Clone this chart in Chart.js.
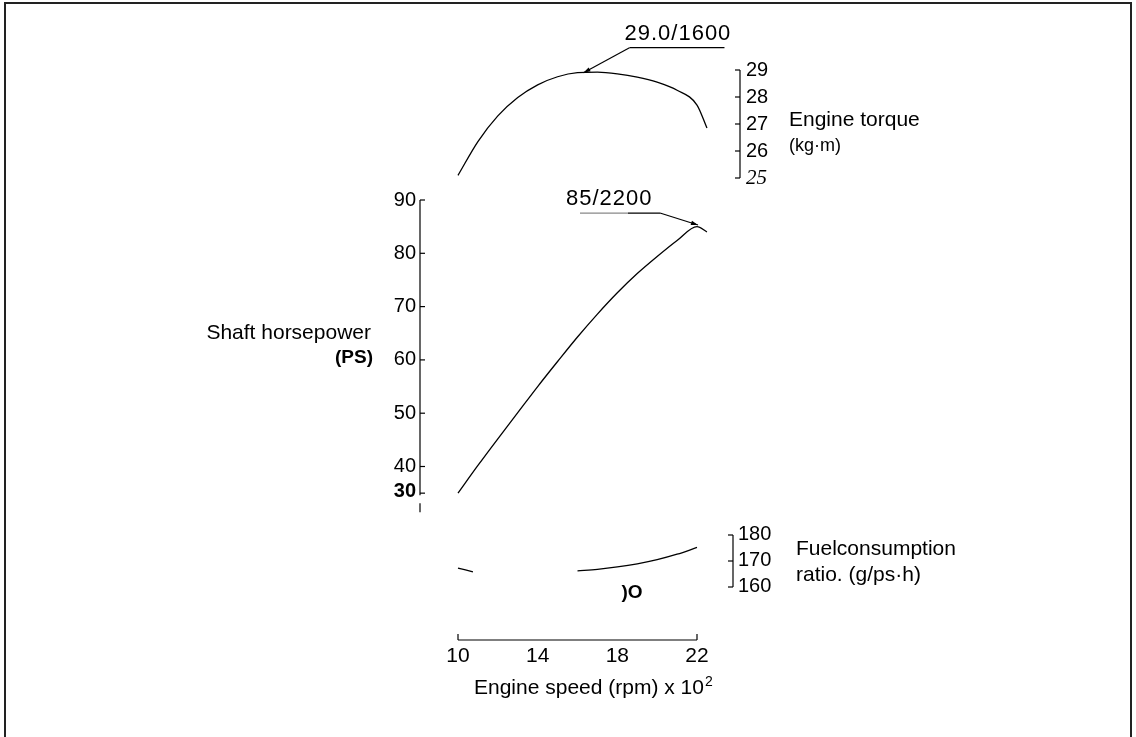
<!DOCTYPE html>
<html>
<head>
<meta charset="utf-8">
<script src="https://cdn.jsdelivr.net/npm/chart.js@4.4.1/dist/chart.umd.min.js"></script>
<style>
  html, body { margin: 0; padding: 0; background: #fff; }
</style>
</head>
<body>
<canvas id="engine-chart" width="1136" height="737"></canvas>
<script>
// engine speed in 100 rpm
const torqueRpm = [10, 11, 12, 13, 14, 15, 16, 17, 18, 19, 20, 21, 22, 22.5];
const torqueValues = [25.1, 26.35, 27.3, 27.98, 28.45, 28.75, 28.9, 28.92, 28.86, 28.74, 28.55, 28.25, 27.7, 26.85];

const powerRpm = [10, 11, 12, 13, 14, 15, 16, 17, 18, 19, 20, 21, 22, 22.5];
const powerValues = [35, 40.2, 45.2, 50.1, 55, 59.7, 64.3, 68.6, 72.6, 76.2, 79.4, 82.4, 85, 84];

// the scan only shows two pieces of the fuel curve
const fuelRpm = [10, 10.75, 13, 16, 17, 18, 19, 20, 21, 22];
const fuelValues = [167.3, 165.8, null, 166.2, 166.8, 167.7, 168.9, 170.5, 172.6, 175.2];

const rpmTicks = [10, 14, 18, 22];
const torqueTicks = [29, 28, 27, 26, 25];
const powerTicks = [90, 80, 70, 60, 50, 40];
const fuelTicks = [180, 170, 160];

// power axis is broken below 40: the "30" mark sits half a step under 40
const powerBreakLabel = '30';
const powerBreakAt = 35;

const torqueNote = { text: '29.0/1600', x: 16.3, y: 28.9 };
const powerNote = { text: '85/2200', x: 22.05, y: 85.3 };

const AREA_TOP = 20, AREA_BOTTOM = 640;
const X_LEFT = 458, X_22 = 697, X_MAX = 22.6;
const X_RIGHT = X_22 + (X_MAX - 22) * (X_22 - X_LEFT) / 12;

// each curve lives in its own vertical band of the same plot area
function band(v1, p1, v2, p2) {
  const k = (p1 - p2) / (v2 - v1);
  return { min: v1 - (AREA_BOTTOM - p1) / k, max: v2 + (p2 - AREA_TOP) / k };
}
const torqueRange = band(25, 178, 29, 70);
const powerRange = band(40, 466.5, 90, 200);
const fuelRange = band(160, 587, 180, 535);

const pts = (xs, ys) => xs.map((x, i) => ({ x: x, y: ys[i] }));

const FONT = '"Liberation Sans", Arial, sans-serif';

function text(ctx, str, x, y, align, font, spacing) {
  ctx.font = font || '21px ' + FONT;
  ctx.letterSpacing = spacing || '0px';
  ctx.textAlign = align || 'left';
  ctx.textBaseline = 'middle';
  ctx.fillText(str, x, y);
  ctx.letterSpacing = '0px';
}

function line(ctx, x1, y1, x2, y2) {
  ctx.beginPath();
  ctx.moveTo(x1, y1);
  ctx.lineTo(x2, y2);
  ctx.stroke();
}

function arrowHead(ctx, fromX, fromY, tipX, tipY) {
  const a = Math.atan2(tipY - fromY, tipX - fromX);
  ctx.beginPath();
  ctx.moveTo(tipX, tipY);
  ctx.lineTo(tipX - 7 * Math.cos(a) + 2.2 * Math.sin(a), tipY - 7 * Math.sin(a) - 2.2 * Math.cos(a));
  ctx.lineTo(tipX - 7 * Math.cos(a) - 2.2 * Math.sin(a), tipY - 7 * Math.sin(a) + 2.2 * Math.cos(a));
  ctx.closePath();
  ctx.fill();
}

const decorations = {
  id: 'decorations',
  afterDraw(chart) {
    const ctx = chart.ctx;
    const sx = chart.scales.x;
    const yT = chart.scales.yTorque;
    const yP = chart.scales.yPower;
    const yF = chart.scales.yFuel;
    ctx.save();
    ctx.strokeStyle = '#000';
    ctx.fillStyle = '#000';

    // frame
    ctx.lineWidth = 2;
    ctx.strokeStyle = '#222';
    ctx.beginPath();
    ctx.moveTo(5, 740);
    ctx.lineTo(5, 3);
    ctx.lineTo(1131, 3);
    ctx.lineTo(1131, 740);
    ctx.stroke();
    ctx.strokeStyle = '#000';
    ctx.lineWidth = 1.2;

    // engine speed axis
    const xb = chart.chartArea.bottom;
    line(ctx, sx.getPixelForValue(10), xb, sx.getPixelForValue(22), xb);
    line(ctx, sx.getPixelForValue(10), xb, sx.getPixelForValue(10), xb - 6);
    line(ctx, sx.getPixelForValue(22), xb, sx.getPixelForValue(22), xb - 6);
    rpmTicks.forEach(v => text(ctx, String(v), sx.getPixelForValue(v), xb + 16, 'center', '21px ' + FONT));
    text(ctx, 'Engine speed (rpm) x 10', 474, 688);
    ctx.font = '21px ' + FONT;
    const w = ctx.measureText('Engine speed (rpm) x 10').width;
    text(ctx, '2', 474 + w + 1, 682, 'left', '14px ' + FONT);

    // horsepower axis
    const px = 420;
    line(ctx, px, yP.getPixelForValue(90), px, yP.getPixelForValue(powerBreakAt) + 2);
    line(ctx, px, yP.getPixelForValue(powerBreakAt) + 10, px, yP.getPixelForValue(powerBreakAt) + 19);
    powerTicks.forEach(v => {
      const y = yP.getPixelForValue(v);
      line(ctx, px, y, px + 5, y);
      text(ctx, String(v), px - 4, y, 'right', '20px ' + FONT);
    });
    const yb = yP.getPixelForValue(powerBreakAt);
    line(ctx, px, yb, px + 5, yb);
    text(ctx, powerBreakLabel, px - 4, yb - 2, 'right', 'bold 20px ' + FONT);
    text(ctx, 'Shaft horsepower', 371, 333, 'right');
    text(ctx, '(PS)', 373, 358, 'right', 'bold 19px ' + FONT);

    // torque axis
    const tx = 740;
    line(ctx, tx, yT.getPixelForValue(29), tx, yT.getPixelForValue(25));
    torqueTicks.forEach(v => {
      const y = yT.getPixelForValue(v);
      line(ctx, tx - 5, y, tx, y);
      const f = v === 25 ? 'italic 21px "Liberation Serif", serif' : '20px ' + FONT;
      text(ctx, String(v), tx + 6, y, 'left', f);
    });
    text(ctx, 'Engine torque', 789, 120);
    text(ctx, '(kg\u00b7m)', 789, 146, 'left', '18px ' + FONT);

    // fuel consumption axis
    const fx = 733;
    line(ctx, fx, yF.getPixelForValue(180), fx, yF.getPixelForValue(160));
    fuelTicks.forEach(v => {
      const y = yF.getPixelForValue(v);
      line(ctx, fx - 5, y, fx, y);
      text(ctx, String(v), fx + 5, y - 1, 'left', '20px ' + FONT);
    });
    text(ctx, 'Fuelconsumption', 796, 549);
    text(ctx, 'ratio. (g/ps\u00b7h)', 796, 575);

    // leftover mark in the scan
    text(ctx, ')O', 632, 593, 'center', 'bold 19px ' + FONT);

    // peak torque note
    let tipX = sx.getPixelForValue(torqueNote.x);
    let tipY = yT.getPixelForValue(torqueNote.y);
    line(ctx, tipX, tipY, tipX + 46, tipY - 25);
    line(ctx, tipX + 46, tipY - 25, tipX + 141, tipY - 25);
    arrowHead(ctx, tipX + 46, tipY - 25, tipX, tipY);
    text(ctx, torqueNote.text, tipX + 41, tipY - 39, 'left', '22px ' + FONT, '1px');

    // peak power note
    tipX = sx.getPixelForValue(powerNote.x);
    tipY = yP.getPixelForValue(powerNote.y);
    line(ctx, tipX - 38, tipY - 12, tipX, tipY);
    line(ctx, tipX - 70, tipY - 12, tipX - 38, tipY - 12);
    ctx.strokeStyle = '#888';
    line(ctx, tipX - 118, tipY - 12, tipX - 70, tipY - 12);
    arrowHead(ctx, tipX - 38, tipY - 12, tipX, tipY);
    text(ctx, powerNote.text, tipX - 132, tipY - 26, 'left', '22px ' + FONT, '1px');

    ctx.restore();
  }
};

const curve = (data, axis) => ({
  data: data,
  yAxisID: axis,
  borderColor: '#000',
  borderWidth: 1.3,
  pointRadius: 0,
  fill: false,
  spanGaps: false,
  clip: false,
  cubicInterpolationMode: 'monotone'
});

new Chart(document.getElementById('engine-chart'), {
  type: 'line',
  data: {
    datasets: [
      curve(pts(torqueRpm, torqueValues), 'yTorque'),
      curve(pts(powerRpm, powerValues), 'yPower'),
      curve(pts(fuelRpm, fuelValues), 'yFuel')
    ]
  },
  options: {
    responsive: false,
    animation: false,
    layout: { padding: { left: X_LEFT, right: 1136 - X_RIGHT, top: AREA_TOP, bottom: 737 - AREA_BOTTOM } },
    plugins: { legend: { display: false }, tooltip: { enabled: false } },
    scales: {
      x: { type: 'linear', min: 10, max: X_MAX, display: false },
      yTorque: { type: 'linear', min: torqueRange.min, max: torqueRange.max, display: false },
      yPower: { type: 'linear', min: powerRange.min, max: powerRange.max, display: false },
      yFuel: { type: 'linear', min: fuelRange.min, max: fuelRange.max, display: false }
    }
  },
  plugins: [decorations]
});
</script>
</body>
</html>
